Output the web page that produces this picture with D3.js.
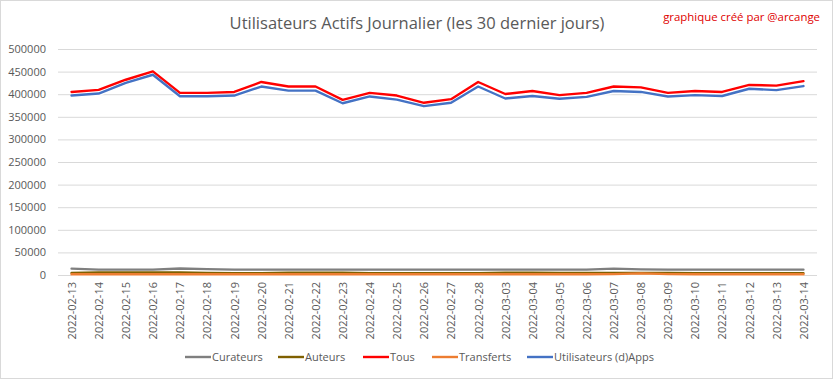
<!DOCTYPE html>
<html><head><meta charset="utf-8">
<script src="https://cdn.jsdelivr.net/npm/d3@7"></script>
<style>body{margin:0;background:#fff}svg{display:block}text{font-family:"Open Sans",sans-serif}</style>
</head><body><svg id="c" width="833" height="379"></svg>
<script>
const dates = ["2022-02-13","2022-02-14","2022-02-15","2022-02-16","2022-02-17","2022-02-18","2022-02-19","2022-02-20","2022-02-21","2022-02-22","2022-02-23","2022-02-24","2022-02-25","2022-02-26","2022-02-27","2022-02-28","2022-03-03","2022-03-04","2022-03-05","2022-03-06","2022-03-07","2022-03-08","2022-03-09","2022-03-10","2022-03-11","2022-03-12","2022-03-13","2022-03-14"];
const curateurs = [14000,12000,12000,12000,14500,13000,12000,12000,12000,12000,12000,12000,12000,12000,12000,12000,12000,12000,12000,12000,14000,12500,12000,12000,12000,12000,12000,12000];
const auteurs = [4500,5500,5500,5500,5500,4500,4000,4000,5000,5000,5000,4000,4000,4000,4000,4000,5000,5000,4500,4500,4500,4500,4500,4000,4000,4000,4000,4000];
const tous = [405000,409500,432000,450500,403000,403000,405000,427000,417000,417000,387500,403000,397000,381000,389000,427000,400500,407000,398000,403000,417000,415000,403000,407000,405000,420500,419000,429000];
const transferts = [1500,1500,1500,1500,1500,1500,1500,1500,1500,1500,1500,1500,1500,1500,1500,1500,1500,1500,1500,1500,2000,3500,2000,1500,1500,1500,1500,1500];
const dapps = [397000,401500,425000,443000,395500,395500,397000,417000,408000,408000,380000,395000,388000,373500,381000,417000,390500,396000,390000,394000,407000,405000,395000,398000,396000,412000,409000,418000];
const yTicks = [0,50000,100000,150000,200000,250000,300000,350000,400000,450000,500000];
const seriesNames = ["Curateurs","Auteurs","Tous","Transferts","Utilisateurs (d)Apps"];
const seriesColors = ["#7f7f7f","#7f6000","#ff0000","#ed7d31","#4472c4"];
const seriesData = [curateurs,auteurs,tous,transferts,dapps];

const svg = d3.select("#c");
svg.append("rect").attr("x",0.5).attr("y",0.5).attr("width",832).attr("height",378).attr("fill","#fff").attr("stroke","#d9d9d9");

const pL=58,pR=817,pT=49,pB=275;
const x = d3.scalePoint().domain(dates).range([pL,pR]).padding(0.5);
const y = d3.scaleLinear().domain([0,500000]).range([pB,pT]);

// grid
svg.append("g").selectAll("line").data(yTicks).join("line")
  .attr("x1",pL).attr("x2",pR).attr("y1",d=>y(d)+0.5).attr("y2",d=>y(d)+0.5)
  .attr("stroke","#d9d9d9").attr("stroke-width",1);

// y axis
const ya = svg.append("g").attr("transform",`translate(${pL},0)`)
  .call(d3.axisLeft(y).tickValues(yTicks).tickSize(0).tickPadding(12).tickFormat(d3.format("d")));
ya.select(".domain").remove();
ya.selectAll("text").attr("fill","#595959").style("font-size","11px").style("font-family","'Open Sans',sans-serif");

// x axis
const xa = svg.append("g").attr("transform",`translate(0,${pB})`)
  .call(d3.axisBottom(x).tickSize(0).tickPadding(0));
xa.select(".domain").remove();
xa.selectAll("text").attr("fill","#595959").style("font-size","11px").style("font-family","'Open Sans',sans-serif")
  .attr("transform","rotate(-90)").attr("text-anchor","end").attr("dy","0.35em").attr("dx","0").attr("x",-7).attr("y",0);

// lines
const line = d3.line().x((d,i)=>x(dates[i])).y(d=>y(d));
seriesData.forEach((s,k)=>{
  svg.append("path").datum(s).attr("d",line).attr("fill","none").attr("stroke","#ffffff").attr("stroke-opacity",0.85).attr("stroke-width",5.5).attr("stroke-linejoin","round");
});
seriesData.forEach((s,k)=>{
  svg.append("path").datum(s).attr("d",line).attr("fill","none").attr("stroke",seriesColors[k]).attr("stroke-width",2.4).attr("stroke-linejoin","round").attr("stroke-linecap","round");
});

// title
const title = svg.append("text").attr("x",417).attr("y",29).attr("text-anchor","middle").attr("fill","#595959")
  .style("font-size","100px").text("Utilisateurs Actifs Journalier (les 30 dernier jours)");
let w = title.node().getComputedTextLength();
title.style("font-size",(100*375/w)+"px");

const credit = svg.append("text").attr("x",820).attr("y",21).attr("text-anchor","end").attr("fill","#e00000")
  .style("font-size","100px").text("graphique créé par @arcange");
w = credit.node().getComputedTextLength();
credit.style("font-size",(100*157/w)+"px");

// legend
const legX = [185,278,363,432,527];
const lg = svg.append("g");
seriesNames.forEach((n,k)=>{
  lg.append("line").attr("x1",legX[k]).attr("x2",legX[k]+26).attr("y1",357).attr("y2",357).attr("stroke",seriesColors[k]).attr("stroke-width",2.4);
  lg.append("text").attr("x",legX[k]+27).attr("y",361).attr("fill","#595959").style("font-size","11px").text(n);
});
</script></body></html>
